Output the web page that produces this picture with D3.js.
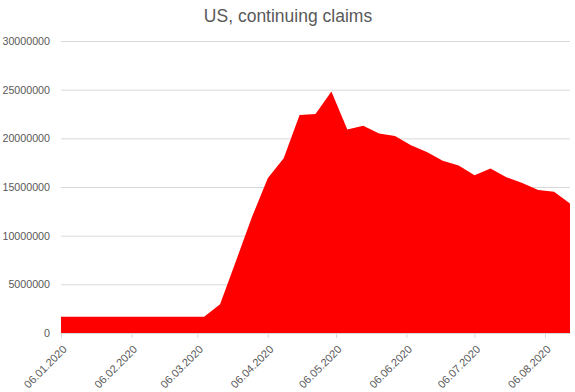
<!DOCTYPE html>
<html>
<head>
<meta charset="utf-8">
<script src="https://cdn.jsdelivr.net/npm/d3@7"></script>
<style>
  body { margin: 0; background: #fff; }
  svg { display: block; }
</style>
</head>
<body>
<div id="vis"></div>
<script>
// weekly data, continuing claims
var weeks = ["06.01.2020","13.01.2020","20.01.2020","27.01.2020","03.02.2020","10.02.2020",
  "17.02.2020","24.02.2020","02.03.2020","09.03.2020","16.03.2020","23.03.2020","30.03.2020",
  "06.04.2020","13.04.2020","20.04.2020","27.04.2020","04.05.2020","11.05.2020","18.05.2020",
  "25.05.2020","01.06.2020","08.06.2020","15.06.2020","22.06.2020","29.06.2020","06.07.2020",
  "13.07.2020","20.07.2020","27.07.2020","03.08.2020","10.08.2020","17.08.2020"];
var claims = [1680000,1680000,1680000,1680000,1680000,1680000,1680000,1680000,1680000,1680000,
  2950000,7400000,11900000,15900000,17950000,22400000,22500000,24800000,20900000,21300000,
  20500000,20250000,19300000,18600000,17700000,17200000,16200000,16900000,16000000,15400000,
  14700000,14500000,13300000];
var xTickLabels = ["06.01.2020","06.02.2020","06.03.2020","06.04.2020","06.05.2020",
  "06.06.2020","06.07.2020","06.08.2020"];
var yTicks = [0,5000000,10000000,15000000,20000000,25000000,30000000];

var W = 575, H = 392;
var margin = {top: 41, right: 5, bottom: 59, left: 61};
var width = W - margin.left - margin.right,
    height = H - margin.top - margin.bottom;

var parse = d3.timeParse("%d.%m.%Y");
var data = weeks.map(function(w, i) { return {date: parse(w), value: claims[i]}; });

var svg = d3.select("#vis").append("svg")
  .attr("width", W)
  .attr("height", H);

svg.append("text")
  .attr("x", 288)
  .attr("y", 22)
  .attr("text-anchor", "middle")
  .attr("font-family", "Liberation Sans, Arial, sans-serif")
  .attr("font-size", 17.5)
  .attr("fill", "#595959")
  .text("US, continuing claims");

var g = svg.append("g")
  .attr("transform", "translate(" + margin.left + "," + margin.top + ")");

var x = d3.scaleTime()
  .domain(d3.extent(data, function(d) { return d.date; }))
  .range([0, width]);

var y = d3.scaleLinear()
  .domain([0, 30000000])
  .range([height, 0]);

// gridlines + y labels
var yAxis = g.append("g")
  .call(d3.axisLeft(y).tickValues(yTicks).tickSize(-width).tickFormat(d3.format("d")).tickPadding(11));
yAxis.select(".domain").remove();
yAxis.selectAll(".tick line")
  .attr("stroke", "#d9d9d9")
  .style("display", function(d) { return d === 0 ? "none" : null; });
yAxis.selectAll(".tick text")
  .attr("font-family", "Liberation Sans, Arial, sans-serif")
  .attr("font-size", 10.7)
  .attr("fill", "#595959");

var area = d3.area()
  .x(function(d) { return x(d.date); })
  .y0(height)
  .y1(function(d) { return y(d.value); });

g.append("path")
  .datum(data)
  .attr("fill", "#ff0000")
  .attr("d", area);

// x axis
var xAxis = g.append("g")
  .attr("transform", "translate(0," + height + ")")
  .call(d3.axisBottom(x).tickValues(xTickLabels.map(parse)).tickSize(5).tickSizeOuter(0)
    .tickFormat(d3.timeFormat("%d.%m.%Y")));
xAxis.select(".domain").attr("stroke", "#d9d9d9");
xAxis.selectAll(".tick line").attr("stroke", "#d9d9d9");
xAxis.selectAll(".tick text")
  .attr("font-family", "Liberation Sans, Arial, sans-serif")
  .attr("font-size", 11)
  .attr("fill", "#595959")
  .attr("text-anchor", "end")
  .attr("y", 0)
  .attr("dy", 0)
  .attr("transform", "translate(6,17) rotate(-45)");
</script>
</body>
</html>
